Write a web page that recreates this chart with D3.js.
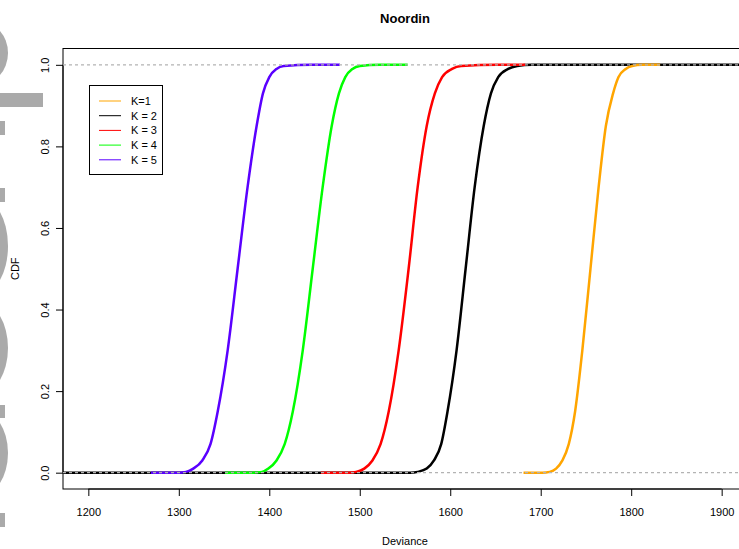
<!DOCTYPE html>
<html>
<head>
<meta charset="utf-8">
<script src="https://cdn.jsdelivr.net/npm/d3@7"></script>
<style>
  body { margin: 0; background: #fff; }
  svg { display: block; font-family: "Liberation Sans", Arial, sans-serif; }
</style>
</head>
<body>
<script>
// Series labels and colours (legend order)
const seriesNames = ['K=1', 'K = 2', 'K = 3', 'K = 4', 'K = 5'];
const seriesColors = ['#ffa500', '#000000', '#ff0000', '#00ff00', '#5a00ff'];

const cdfLevels = [0, 0.002, 0.01, 0.03, 0.07, 0.15, 0.3, 0.5, 0.7, 0.85, 0.93, 0.97, 0.99, 0.997, 1];

// Deviance for each level, one list per K
const devK1 = [1702, 1710, 1717, 1724, 1731, 1738, 1746, 1755, 1764, 1772, 1780, 1786, 1794, 1801, 1812];
const devK2 = [1556, 1564, 1574, 1582, 1590, 1597, 1607, 1617, 1627, 1637, 1645, 1653, 1664, 1674, 1690];
const devK3 = [1488, 1496, 1505, 1514, 1523, 1532, 1543, 1554, 1564, 1574, 1583, 1591, 1602, 1612, 1652];
const devK4 = [1382, 1392, 1399, 1408, 1417, 1426, 1437, 1448, 1459, 1469, 1477, 1484, 1492, 1500, 1522];
const devK5 = [1300, 1308, 1316, 1326, 1335, 1343, 1354, 1365, 1376, 1386, 1393, 1400, 1408, 1416, 1447];

// Where the flat 0 / 1 parts of each step function stop (left, right)
const tailLeft = [1681, 1100, 1457, 1351, 1269];
const tailRight = [1832, 2000, 1683, 1553, 1478];

// Axis ticks
const xTicks = [1200, 1300, 1400, 1500, 1600, 1700, 1800, 1900];
const yTicks = [0, 0.2, 0.4, 0.6, 0.8, 1.0];

const width = 739;
const height = 549;
const plot = { left: 63, right: 747, top: 48.5, bottom: 489 };

const svg = d3.select('body').append('svg')
  .attr('width', width)
  .attr('height', height);

// Grey background shapes cut off at the left edge
const bgRounds = [[53, 22], [246, 34], [348, 32], [453, 30]];
const bgBars = [[93, 14, 43], [121, 14, 5], [188, 14, 5], [405, 13, 5], [513, 14, 5]];
const bg = svg.append('g').attr('fill', '#aaaaaa');
bg.selectAll('ellipse').data(bgRounds).enter().append('ellipse')
  .attr('cx', -22).attr('cy', d => d[0])
  .attr('rx', 30).attr('ry', d => d[1] / 0.68);
bg.selectAll('rect').data(bgBars).enter().append('rect')
  .attr('x', 0).attr('y', d => d[0])
  .attr('width', d => d[2]).attr('height', d => d[1]);

// Scales, R style: 4% padding around 1200-1900 and 0-1
const x = d3.scaleLinear().domain([1172, 1928]).range([plot.left, plot.right]);
const y = d3.scaleLinear().domain([-0.04, 1.04]).range([plot.bottom, plot.top]);

// Plot box
svg.append('rect')
  .attr('x', plot.left).attr('y', plot.top)
  .attr('width', plot.right - plot.left).attr('height', plot.bottom - plot.top)
  .attr('fill', 'none').attr('stroke', '#000').attr('stroke-width', 1);

// X axis
const xAxis = svg.append('g')
  .attr('transform', 'translate(0,' + plot.bottom + ')')
  .call(d3.axisBottom(x).tickValues(xTicks).tickSize(7).tickPadding(12).tickFormat(d3.format('d')));
xAxis.select('.domain').attr('d', 'M' + x(1200) + ',0H' + x(1900));
xAxis.selectAll('text').attr('font-size', 11).attr('font-family', 'Liberation Sans, Arial').attr('fill', '#000');

// Y axis with rotated labels
const yAxis = svg.append('g')
  .attr('transform', 'translate(' + plot.left + ',0)')
  .call(d3.axisLeft(y).tickValues(yTicks).tickSize(7).tickFormat(d3.format('.1f')));
yAxis.select('.domain').attr('d', 'M0,' + y(0) + 'V' + y(1));
yAxis.selectAll('text')
  .attr('font-size', 11).attr('font-family', 'Liberation Sans, Arial').attr('fill', '#000')
  .attr('x', null).attr('dy', null)
  .attr('text-anchor', 'middle')
  .attr('transform', 'translate(-17,0) rotate(-90)')
  .attr('y', 0).attr('dominant-baseline', 'middle');

// Titles
svg.append('text').attr('x', (plot.left + plot.right) / 2).attr('y', 23)
  .attr('text-anchor', 'middle').attr('font-weight', 'bold').attr('font-size', 13)
  .text('Noordin');
svg.append('text').attr('x', (plot.left + plot.right) / 2).attr('y', 545)
  .attr('text-anchor', 'middle').attr('font-size', 11)
  .text('Deviance');
svg.append('text')
  .attr('transform', 'translate(19,' + (plot.top + plot.bottom) / 2 + ') rotate(-90)')
  .attr('text-anchor', 'middle').attr('font-size', 11)
  .text('CDF');

// Curves, clipped to the plot region
svg.append('clipPath').attr('id', 'clip').append('rect')
  .attr('x', plot.left).attr('y', plot.top)
  .attr('width', plot.right - plot.left).attr('height', plot.bottom - plot.top);

const allDev = [devK1, devK2, devK3, devK4, devK5];
const line = d3.line().x(d => x(d[0])).y(d => y(d[1])).curve(d3.curveMonotoneX);
const curves = svg.append('g').attr('clip-path', 'url(#clip)');

// K = 2 first (it is the base plot), then the others on top
const drawOrder = [1, 0, 2, 3, 4];
drawOrder.forEach(i => {
  const pts = [[tailLeft[i], 0]].concat(allDev[i].map((d, j) => [d, cdfLevels[j]]), [[tailRight[i], 1]]);
  curves.append('path')
    .attr('d', line(pts))
    .attr('fill', 'none')
    .attr('stroke', seriesColors[i])
    .attr('stroke-width', 2.5)
    .attr('stroke-linejoin', 'round');
});

// Dashed grey lines at 0 and 1
curves.selectAll('line.ref').data([0, 1]).enter().append('line')
  .attr('class', 'ref')
  .attr('x1', plot.left).attr('x2', plot.right)
  .attr('y1', d => y(d)).attr('y2', d => y(d))
  .attr('stroke', '#b3b3b3').attr('stroke-width', 1.2).attr('stroke-dasharray', '3,3');

// Legend
const legend = svg.append('g');
legend.append('rect')
  .attr('x', 89.5).attr('y', 85.5).attr('width', 73).attr('height', 89)
  .attr('fill', '#fff').attr('stroke', '#000');
seriesNames.forEach((name, i) => {
  const ly = 101 + i * 14.7;
  legend.append('line')
    .attr('x1', 99).attr('x2', 121).attr('y1', ly).attr('y2', ly)
    .attr('stroke', seriesColors[i]).attr('stroke-width', 1);
  legend.append('text')
    .attr('x', 131).attr('y', ly).attr('dy', '0.35em')
    .attr('font-size', 11)
    .text(name);
});
</script>
</body>
</html>
